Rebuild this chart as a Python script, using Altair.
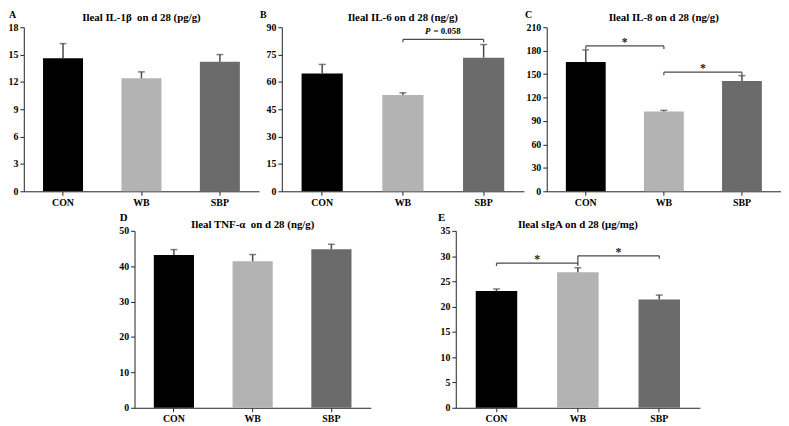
import altair as alt
import pandas as pd

groups = ["CON", "WB", "SBP"]
colors = ["#000000", "#b3b3b3", "#6b6b6b"]

a_mean = [14.6, 12.4, 14.2]
a_err = [1.6, 0.7, 0.8]
b_mean = [64.6, 52.8, 73.3]
b_err = [5.0, 1.2, 7.2]
c_mean = [165.5, 102.0, 141.0]
c_err = [15.5, 1.6, 7.0]
d_mean = [43.2, 41.4, 44.8]
d_err = [1.5, 1.9, 1.4]
e_mean = [23.1, 26.8, 21.4]
e_err = [0.4, 0.9, 0.9]

titles = ["Ileal IL-1\u03b2 \u00a0on d 28 (pg/g)", "Ileal IL-6 on d 28 (ng/g)",
          "Ileal IL-8 on d 28 (ng/g)", "Ileal TNF-\u03b1 \u00a0on d 28 (ng/g)",
          "Ileal sIgA on d 28 (\u03bcg/mg)"]
letters = ["A", "B", "C", "D", "E"]

# brackets: (from, to, level, left drop, right drop, label)
b_brackets = [("WB", "SBP", 83.3, 1.5, 1.5, "P")]
c_brackets = [("CON", "WB", 186.0, 4.0, 4.0, "*"), ("WB", "SBP", 152.5, 4.0, 4.0, "*")]
e_brackets = [("CON", "WB", 28.6, 0.55, 0.55, "*"), ("WB", "SBP", 30.05, 1.6, 0.55, "*")]

FONT = "Liberation Serif"
LINE = "#4a4a4a"


def panel(letter, title, means, errs, ymax, ystep, width, height,
          brackets=None, letter_x=-16, letter_y=-17, title_y=-15, letter_size=11):
    df = pd.DataFrame({"group": groups, "mean": means,
                       "upper": [m + e for m, e in zip(means, errs)]})
    xscale = alt.Scale(domain=groups, paddingInner=0.49, paddingOuter=0.245)
    yscale = alt.Scale(domain=[0, ymax], nice=False, zero=True)
    xax = alt.Axis(title=None, labelAngle=0, labelOverlap=False)
    yax = alt.Axis(title=None, values=list(range(0, ymax + 1, ystep)),
                   labelOverlap=False, tickCount=len(range(0, ymax + 1, ystep)))
    base = alt.Chart(df)
    bars = base.mark_bar().encode(
        x=alt.X("group:N", scale=xscale, axis=xax, sort=groups),
        y=alt.Y("mean:Q", scale=yscale, axis=yax),
        color=alt.Color("group:N", scale=alt.Scale(domain=groups, range=colors), legend=None),
    )
    whisk = base.mark_rule(color=LINE, strokeWidth=1.5).encode(
        x=alt.X("group:N", scale=xscale, sort=groups),
        y=alt.Y("mean:Q", scale=yscale),
        y2="upper:Q",
    )
    cap = base.mark_tick(color=LINE, thickness=1.5, size=7).encode(
        x=alt.X("group:N", scale=xscale, sort=groups),
        y=alt.Y("upper:Q", scale=yscale),
    )
    lab = alt.Chart(pd.DataFrame({"t": [letter]})).mark_text(
        font=FONT, fontSize=letter_size, fontWeight="bold", align="left", baseline="top",
        color="black"
    ).encode(text="t:N", x=alt.value(letter_x), y=alt.value(letter_y))
    tit = alt.Chart(pd.DataFrame({"t": [title]})).mark_text(
        font=FONT, fontSize=11, fontWeight="bold", align="center", baseline="top", color="black"
    ).encode(text="t:N", x=alt.value(width / 2), y=alt.value(title_y))
    layers = [bars, whisk, cap]
    if brackets:
        step = width / 3.0
        bdf = pd.DataFrame({
            "x1": [b[0] for b in brackets], "x2": [b[1] for b in brackets],
            "lev": [b[2] for b in brackets],
            "low1": [b[2] - b[3] for b in brackets],
            "low2": [b[2] - b[4] for b in brackets],
            "lab": [b[5] for b in brackets],
        })
        bb = alt.Chart(bdf)
        hor = bb.mark_rule(color=LINE, strokeWidth=1.2).encode(
            x=alt.X("x1:N", scale=xscale), x2="x2:N", y=alt.Y("lev:Q", scale=yscale))
        left = bb.mark_rule(color=LINE, strokeWidth=1.2).encode(
            x=alt.X("x1:N", scale=xscale), y=alt.Y("lev:Q", scale=yscale), y2="low1:Q")
        right = bb.mark_rule(color=LINE, strokeWidth=1.2).encode(
            x=alt.X("x2:N", scale=xscale), y=alt.Y("lev:Q", scale=yscale), y2="low2:Q")
        layers += [hor, left, right]
        if brackets[0][5] == "P":
            p1 = bb.mark_text(font=FONT, fontSize=9, fontWeight="bold", fontStyle="italic",
                              align="right", baseline="alphabetic", dx=step / 2 - 13, dy=-5,
                              color="black").encode(
                x=alt.X("x1:N", scale=xscale), y=alt.Y("lev:Q", scale=yscale), text="lab:N")
            p2 = bb.mark_text(font=FONT, fontSize=9, fontWeight="bold",
                              align="left", baseline="alphabetic", dx=step / 2 - 10, dy=-5,
                              color="black").encode(
                x=alt.X("x1:N", scale=xscale), y=alt.Y("lev:Q", scale=yscale),
                text=alt.value("= 0.058"))
            layers += [p1, p2]
        else:
            st = bb.mark_text(font=FONT, fontSize=12, fontWeight="bold",
                              align="center", baseline="alphabetic", dx=step / 2, dy=0,
                              color="#222222").encode(
                x=alt.X("x1:N", scale=xscale), y=alt.Y("lev:Q", scale=yscale), text="lab:N")
            layers += [st]
    layers += [lab, tit]
    return alt.layer(*layers).properties(width=width, height=height)


A = panel(letters[0], titles[0], a_mean, a_err, 18, 3, 238, 166, letter_x=-15, letter_size=10)
B = panel(letters[1], titles[1], b_mean, b_err, 90, 15, 245, 166, b_brackets, letter_x=-22,
          letter_size=10)
C = panel(letters[2], titles[2], c_mean, c_err, 210, 30, 237, 166, c_brackets, letter_x=-22,
          letter_size=10)
D = panel(letters[3], titles[3], d_mean, d_err, 50, 10, 239, 179, letter_x=-15,
          letter_y=-19, title_y=-12)
E = panel(letters[4], titles[4], e_mean, e_err, 35, 5, 247, 179, e_brackets, letter_x=-18,
          letter_y=-19, title_y=-12)

spacer = alt.Chart(pd.DataFrame({"s": [0]})).mark_rule(opacity=0, strokeWidth=0).encode(
    x=alt.value(0), x2=alt.value(28), y=alt.value(0)
).properties(width=28, height=1)

top = alt.hconcat(A, B, C, spacing=1)
bottom = alt.hconcat(spacer, D, E, spacing=68)

chart = alt.vconcat(top, bottom, spacing=5).properties(
    padding={"left": 0, "top": 0, "right": 0, "bottom": 0}
).configure_view(stroke=None).configure_axis(
    labelFont=FONT, labelFontSize=10, labelFontWeight="bold", labelColor="black",
    domainColor="#222222", tickColor="#222222", tickSize=4, labelPadding=2,
    grid=False, domainWidth=1, tickWidth=1, labelOverlap=False
)

chart.save("out.html", embed_options={"renderer": "svg", "actions": False})
